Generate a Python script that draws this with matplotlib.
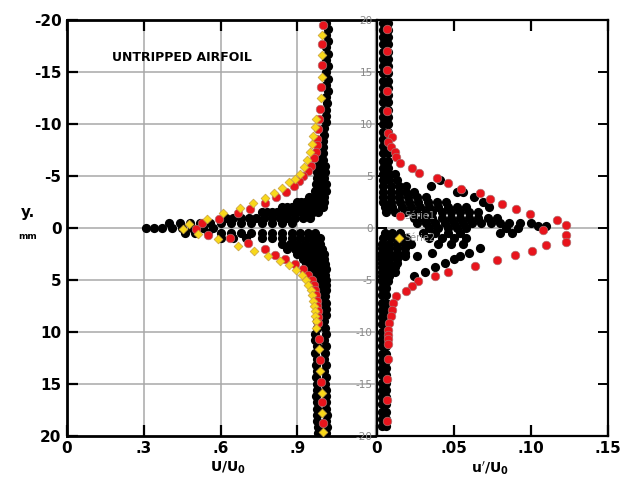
import matplotlib
matplotlib.use("Agg")
import matplotlib.pyplot as plt

# ---- left panel: mean velocity U/U0 vs y (mm) ----
red_u_left = [0.999, 0.995, 0.995, 0.991, 0.988, 0.984, 0.981, 0.978, 0.976, 0.972, 0.965, 0.952,
              0.940, 0.923, 0.905, 0.888, 0.856, 0.817, 0.773, 0.715, 0.669, 0.593, 0.526, 0.502,
              0.550, 0.637, 0.708, 0.773, 0.814, 0.853, 0.892, 0.923, 0.943, 0.956, 0.965, 0.968,
              0.972, 0.975, 0.977, 0.979, 0.980, 0.981, 0.984, 0.988, 0.992, 0.995, 0.998]
red_y_left = [-19.6, -17.7, -15.7, -13.6, -11.5, -10.5, -9.5, -8.6, -8.0, -7.3, -6.7, -6.0,
              -5.5, -5.0, -4.5, -4.05, -3.5, -2.96, -2.4, -1.85, -1.4, -0.9, -0.47, 0.1,
              0.65, 1.0, 1.45, 2.05, 2.56, 2.95, 3.43, 3.98, 4.56, 5.04, 5.5, 6.0,
              6.5, 7.0, 7.5, 8.0, 8.6, 9.2, 10.66, 12.7, 14.8, 16.8, 18.8]

yel_u_left = [0.995, 0.996, 0.995, 0.992, 0.973, 0.969, 0.962, 0.956, 0.949, 0.939, 0.926, 0.910,
              0.891, 0.868, 0.839, 0.809, 0.773, 0.728, 0.676, 0.608, 0.546, 0.477, 0.454,
              0.513, 0.591, 0.669, 0.732, 0.785, 0.832, 0.868, 0.895, 0.917, 0.932, 0.943, 0.952,
              0.958, 0.962, 0.965, 0.967, 0.969, 0.971, 0.973, 0.986, 0.988, 0.995, 0.995, 1.0]
yel_y_left = [-18.6, -16.7, -14.6, -12.5, -10.5, -9.7, -8.9, -8.1, -7.3, -6.6, -5.9, -5.2,
              -4.7, -4.4, -3.9, -3.4, -2.9, -2.45, -1.96, -1.45, -0.87, -0.4, 0.13,
              0.6, 1.05, 1.7, 2.2, 2.7, 3.15, 3.6, 4.07, 4.55, 5.0, 5.5, 6.0,
              6.5, 7.0, 7.5, 8.0, 8.5, 9.0, 9.6, 11.7, 13.8, 15.9, 17.8, 19.7]

scan_left = [
    (-19.8, [1.012]), (-19.2, [1.018]), (-18.6, [1.012]), (-18.0, [1.018]), (-17.4, [1.012]),
    (-16.8, [1.018]), (-16.2, [1.012]), (-15.6, [1.018]), (-15.0, [1.012]), (-14.4, [1.018]),
    (-13.8, [1.012]), (-13.2, [1.018]), (-12.6, [1.012]), (-12.0, [1.015]), (-11.4, [1.01]),
    (-10.8, [1.012]), (-10.2, [1.01]), (-9.6, [1.005]), (-9.0, [1.003]), (-8.4, [1.0]),
    (-7.8, [0.998]), (-7.2, [0.99, 1.0]),
    (-6.6, [0.985, 1.0]), (-6.0, [0.98, 0.995, 1.008]), (-5.4, [0.978, 0.993, 1.008]),
    (-4.8, [0.975, 0.99, 1.005]), (-4.2, [0.972, 0.988, 1.003, 1.012]),
    (-3.6, [0.968, 0.984, 1.0, 1.012]), (-3.0, [0.945, 0.96, 0.975, 0.99, 1.005]),
    (-2.5, [0.9, 0.915, 0.93, 0.945, 0.96, 0.975, 0.99, 1.005]),
    (-2.0, [0.84, 0.86, 0.88, 0.9, 0.92, 0.94, 0.96, 0.98, 1.0]),
    (-1.5, [0.76, 0.78, 0.80, 0.82, 0.84, 0.86, 0.88, 0.9, 0.92, 0.94, 0.96, 0.98]),
    (-1.0, [0.62, 0.65, 0.68, 0.71, 0.74, 0.77, 0.8, 0.83, 0.86, 0.89, 0.92, 0.95]),
    (-0.5, [0.4, 0.44, 0.48, 0.52, 0.56, 0.6, 0.64, 0.68, 0.72, 0.76, 0.8, 0.84, 0.88]),
    (0.0, [0.31, 0.34, 0.37, 0.41, 0.45, 0.49, 0.53, 0.57]),
    (0.5, [0.46, 0.5, 0.55, 0.6, 0.64, 0.68, 0.72, 0.76, 0.8, 0.84, 0.88, 0.91, 0.94, 0.97]),
    (1.0, [0.6, 0.65, 0.7, 0.76, 0.8, 0.84, 0.88, 0.91, 0.94, 0.97, 0.99]),
    (1.5, [0.84, 0.87, 0.9, 0.93, 0.96, 0.99]), (2.0, [0.86, 0.89, 0.92, 0.95, 0.975, 0.995]),
    (2.5, [0.9, 0.93, 0.96, 0.99, 1.005]), (3.0, [0.92, 0.95, 0.98, 1.005]),
    (3.5, [0.935, 0.965, 0.99, 1.008]), (4.0, [0.95, 0.975, 1.0, 1.01]),
    (4.5, [0.96, 0.985, 1.008]), (5.0, [0.97, 0.99, 1.01]), (5.5, [0.975, 0.995, 1.01]),
    (6.0, [0.98, 1.0, 1.012]), (6.6, [0.985, 1.008]), (7.2, [0.99, 1.01]), (7.8, [0.99, 1.012]),
    (8.4, [0.99, 1.01]), (9.0, [0.975, 1.005]), (9.6, [0.975, 1.008]), (10.2, [0.97, 1.01]),
    (10.8, [0.97, 1.005]), (11.4, [0.975, 1.01]), (12.0, [0.97, 1.008]), (12.6, [0.975, 1.005]),
    (13.2, [0.972, 1.01]), (13.8, [0.975, 1.005]), (14.4, [0.972, 1.01]), (15.0, [0.975, 1.008]),
    (15.6, [0.975, 1.012]), (16.2, [0.972, 1.01]), (16.8, [0.978, 1.012]), (17.4, [0.975, 1.01]),
    (18.0, [0.978, 1.015]), (18.6, [0.976, 1.012]), (19.2, [0.98, 1.015]), (19.8, [0.98, 1.01]),
]

# ---- right panel: turbulence intensity u'/U0 ----
red_u_right = [0.0063, 0.0063, 0.0063, 0.0063, 0.0063, 0.0074, 0.0095, 0.0074, 0.0089, 0.0117,
               0.0124, 0.015, 0.0226, 0.0275, 0.0388, 0.0464, 0.0544, 0.067, 0.0735, 0.0811,
               0.0904, 0.0995, 0.117, 0.123, 0.108, 0.123, 0.123, 0.110, 0.101, 0.0897,
               0.0782, 0.0637, 0.0464, 0.0377, 0.0269, 0.0226, 0.0189, 0.0124, 0.0106, 0.0095,
               0.0089, 0.0081, 0.0074, 0.0074, 0.0074, 0.0074, 0.0074, 0.0067, 0.0067, 0.0067]
red_y_right = [19.2, 17.1, 15.2, 13.2, 11.25, 9.2, 8.8, 8.3, 7.8, 7.3,
               6.85, 6.3, 5.8, 5.3, 4.8, 4.3, 3.76, 3.35, 2.8, 2.3,
               1.85, 1.34, 0.8, 0.32, -0.2, -0.65, -1.35, -1.6, -2.2, -2.65,
               -3.1, -3.7, -4.2, -4.6, -5.1, -5.6, -6.1, -6.6, -7.2, -7.9,
               -8.5, -9.2, -9.8, -10.3, -10.7, -11.2, -12.6, -14.6, -16.6, -18.6]

scan_right = [
    (19.8, [0.004, 0.007]), (19.1, [0.004, 0.007]), (18.4, [0.004, 0.007]), (17.7, [0.004, 0.007]),
    (17.0, [0.004, 0.007]), (16.3, [0.004, 0.007]), (15.6, [0.004, 0.007]), (14.9, [0.004, 0.007]),
    (14.2, [0.004, 0.007]), (13.5, [0.004, 0.007]), (12.8, [0.004, 0.007]), (12.1, [0.004, 0.007]),
    (11.4, [0.004, 0.007]), (10.7, [0.004, 0.007]), (10.0, [0.004, 0.007]), (9.3, [0.004, 0.007]),
    (8.6, [0.004, 0.007]), (7.9, [0.004, 0.007]), (7.2, [0.004, 0.007]), (6.5, [0.004, 0.007]),
    (5.8, [0.004, 0.007]), (5.2, [0.004, 0.008, 0.012]), (4.6, [0.004, 0.008, 0.013, 0.041]),
    (4.0, [0.004, 0.009, 0.014, 0.019, 0.035]),
    (3.5, [0.004, 0.009, 0.014, 0.019, 0.024, 0.052, 0.056]),
    (3.0, [0.004, 0.009, 0.014, 0.02, 0.026, 0.032, 0.063]),
    (2.5, [0.004, 0.009, 0.015, 0.021, 0.027, 0.033, 0.039, 0.045, 0.069]),
    (2.0, [0.005, 0.01, 0.016, 0.022, 0.028, 0.034, 0.04, 0.046, 0.052, 0.058, 0.073]),
    (1.5, [0.006, 0.012, 0.018, 0.024, 0.03, 0.036, 0.042, 0.048, 0.054, 0.06, 0.066]),
    (1.0, [0.024, 0.03, 0.036, 0.042, 0.048, 0.054, 0.06, 0.066, 0.072, 0.078]),
    (0.5, [0.026, 0.032, 0.038, 0.044, 0.05, 0.056, 0.062, 0.068, 0.074, 0.08, 0.086, 0.093, 0.1]),
    (0.2, [0.105, 0.11]), (0.0, [0.034, 0.04, 0.046, 0.052, 0.058, 0.084, 0.092]),
    (-0.5, [0.005, 0.01, 0.015, 0.03, 0.038, 0.046, 0.054, 0.08, 0.088]),
    (-1.0, [0.004, 0.009, 0.014, 0.019, 0.034, 0.042, 0.05, 0.058]),
    (-1.5, [0.003, 0.008, 0.013, 0.018, 0.022, 0.04, 0.048, 0.056]),
    (-1.9, [0.003, 0.008, 0.013, 0.018, 0.067]), (-2.4, [0.003, 0.008, 0.013, 0.018, 0.036, 0.06]),
    (-2.7, [0.003, 0.008, 0.013, 0.018, 0.026, 0.054]), (-3.0, [0.003, 0.008, 0.013, 0.05]),
    (-3.4, [0.003, 0.008, 0.013, 0.044]), (-3.8, [0.003, 0.008, 0.012, 0.038]),
    (-4.2, [0.003, 0.008, 0.012, 0.031]), (-4.6, [0.003, 0.008, 0.024]), (-5.1, [0.003, 0.007]),
    (-5.8, [0.003, 0.006]), (-6.5, [0.003, 0.006]), (-7.2, [0.003, 0.006]), (-7.9, [0.003, 0.006]),
    (-8.6, [0.003, 0.006]), (-9.3, [0.003, 0.006]), (-10.0, [0.003, 0.006]), (-10.7, [0.003, 0.006]),
    (-11.4, [0.003, 0.006]), (-12.1, [0.003, 0.006]), (-12.8, [0.003, 0.006]), (-13.5, [0.003, 0.006]),
    (-14.2, [0.003, 0.006]), (-14.9, [0.003, 0.006]), (-15.6, [0.003, 0.006]), (-16.3, [0.003, 0.006]),
    (-17.0, [0.003, 0.006]), (-17.7, [0.003, 0.006]), (-18.4, [0.003, 0.006]), (-19.1, [0.003, 0.006]),
]

yticks_mm = [-20, -15, -10, -5, 0, 5, 10, 15, 20]
xticks_left = [0, 0.3, 0.6, 0.9]
xlabels_left = ["0", ".3", ".6", ".9"]
xticks_right = [0, 0.05, 0.10, 0.15]
xlabels_right = ["0", ".05", ".10", ".15"]


def expand(rows):
    us, ys = [], []
    for y, row in rows:
        for u in row:
            us.append(u)
            ys.append(y)
    return us, ys


RED = "#e8141c"
YEL = "#f8d81a"
GRID = "#a8a8a8"
DOT = 44

fig = plt.figure(figsize=(6.22, 4.87), dpi=100)
bot = 1 - 435.5 / 487
hgt = (435.5 - 20.5) / 487
axL = fig.add_axes([67 / 622, bot, (375 - 67) / 622, hgt])
axR = fig.add_axes([377 / 622, bot, (607.5 - 377) / 622, hgt])

# left panel
axL.set_xlim(0, 1.203)
axL.set_ylim(20, -20)
for y in yticks_mm[1:-1]:
    axL.axhline(y, color=GRID, lw=1.1, zorder=1)
for x in xticks_left[1:]:
    axL.axvline(x, color=GRID, lw=1.1, zorder=1)
su, sy = expand(scan_left)
axL.scatter(su, sy, s=DOT, c="black", lw=0, zorder=2)
axL.scatter(red_u_left, red_y_left, s=38, c=RED, edgecolors="#b07070", linewidths=0.5, zorder=3)
axL.scatter(yel_u_left, yel_y_left, marker="D", s=20, c=YEL, edgecolors="#c8a040",
            linewidths=0.5, zorder=4)
axL.text(0.175, -16.4, "UNTRIPPED AIRFOIL", fontsize=9, fontweight="bold", va="center", ha="left")

axL.set_yticks(yticks_mm)
axL.set_yticklabels([str(v) for v in yticks_mm], fontweight="bold", fontsize=11)
axL.set_xticks(xticks_left)
axL.set_xticklabels(xlabels_left, fontweight="bold", fontsize=11)
axL.tick_params(axis="both", direction="in", length=8, width=1.6, top=True, pad=4)
for side in ["left", "bottom", "top"]:
    axL.spines[side].set_linewidth(2)
axL.spines["right"].set_color(GRID)
axL.spines["right"].set_linewidth(1)

# right panel
axR.set_xlim(0, 0.15)
axR.set_ylim(-20, 20)
axR.axhline(0, color=GRID, lw=1.1, zorder=1)
su, sy = expand(scan_right)
axR.scatter(su, sy, s=DOT, c="black", lw=0, zorder=2)
axR.text(0.018, 1.2, "Série1", fontsize=7, color="#909090", va="center", zorder=2.5)
axR.text(0.018, -1.0, "Série2", fontsize=7, color="#909090", va="center", zorder=2.5)
axR.scatter(red_u_right, red_y_right, s=38, c=RED, edgecolors="#b07070", linewidths=0.5, zorder=3)
axR.scatter([0.015], [1.2], s=38, c=RED, edgecolors="#b07070", linewidths=0.5, zorder=3)
axR.scatter([0.0143], [-1.0], marker="D", s=20, c=YEL, edgecolors="#c8a040", linewidths=0.5, zorder=4)

axR.set_xticks(xticks_right)
axR.set_xticklabels(xlabels_right, fontweight="bold", fontsize=11)
axR.set_yticks(yticks_mm)
axR.set_yticklabels([str(v) for v in yticks_mm], fontsize=7.5, color="#8a8a8a")
axR.tick_params(axis="x", direction="in", length=8, width=1.6, top=True, pad=4)
axR.tick_params(axis="y", direction="in", length=7, width=1.4, left=True, right=True, pad=3)
for side in ["left", "bottom", "top", "right"]:
    axR.spines[side].set_linewidth(1.6)

# axis titles
fig.text(28 / 622, 1 - 213 / 487, "y.", fontsize=11, fontweight="bold", ha="center", va="center")
fig.text(28 / 622, 1 - 236 / 487, "mm", fontsize=6.5, fontweight="bold", ha="center", va="center")
fig.text(228 / 622, 1 - 468 / 487, r"$\mathbf{U/U_0}$", fontsize=10, ha="center", va="center")
fig.text(490 / 622, 1 - 468 / 487, r"$\mathbf{u'/U_0}$", fontsize=10, ha="center", va="center")

plt.savefig("out.png", dpi=100)
